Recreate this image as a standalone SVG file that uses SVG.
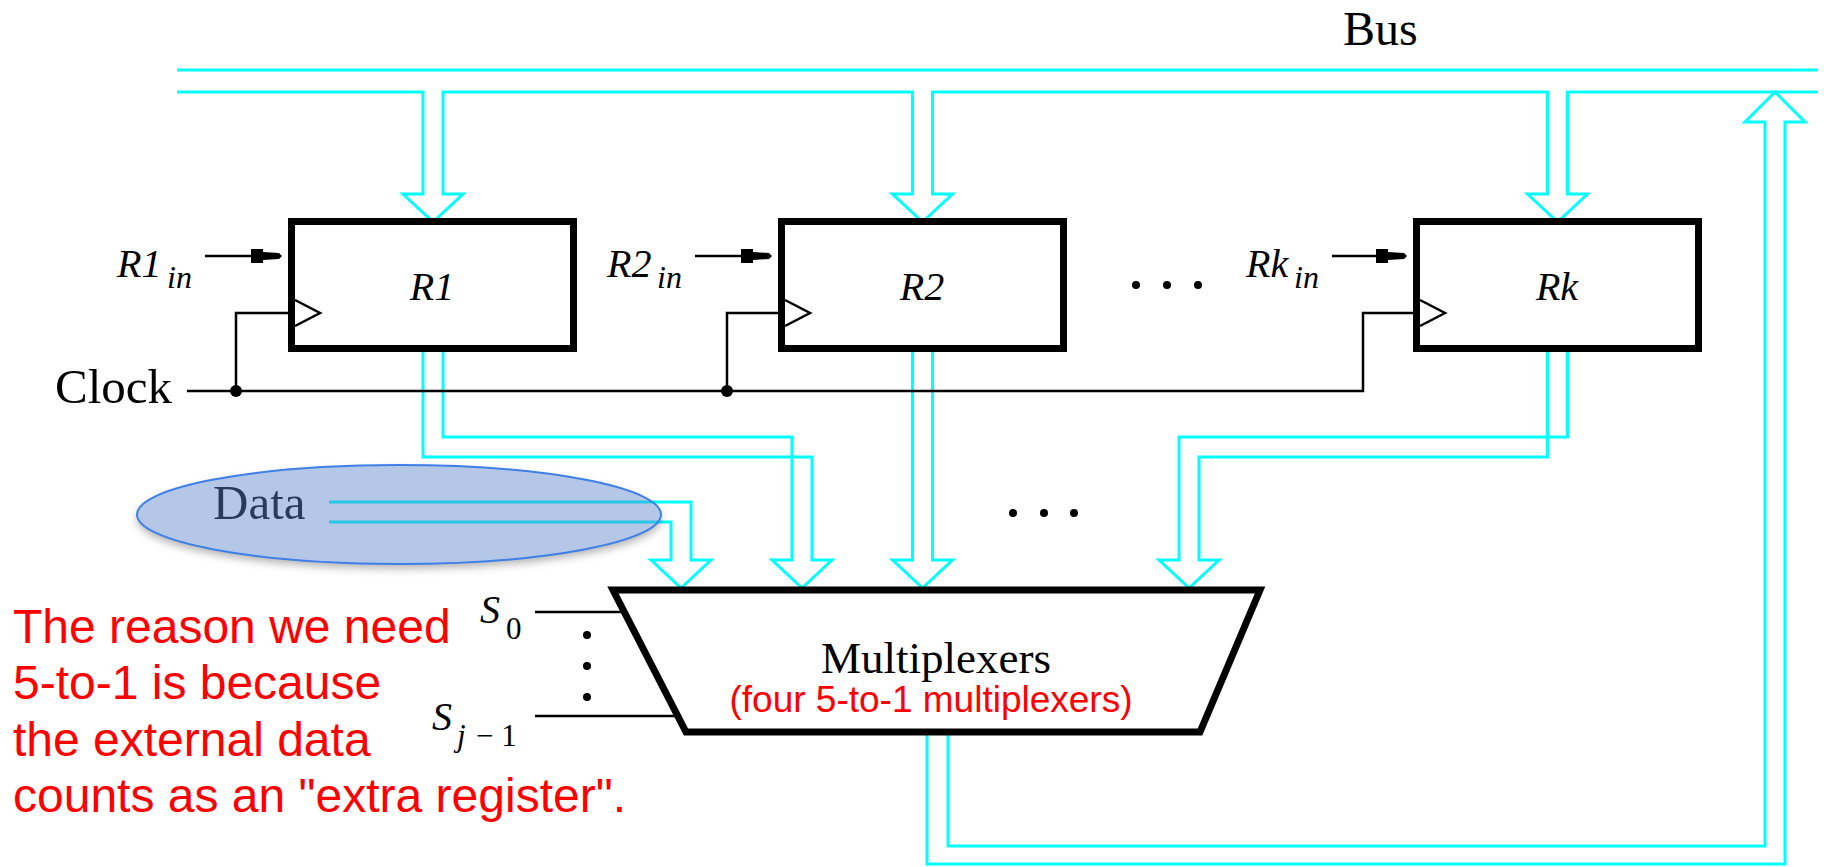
<svg xmlns="http://www.w3.org/2000/svg" width="1824" height="867" viewBox="0 0 1824 867">
<style>
.bus{fill:none;stroke:#00ffff;stroke-width:3;stroke-linejoin:miter}
.reg{fill:#fff;stroke:#000;stroke-width:7}
.wire{fill:none;stroke:#000;stroke-width:2.5}
.clk{fill:#fff;stroke:#000;stroke-width:2.5;stroke-linejoin:miter}
.serif{font-family:"Liberation Serif","Times New Roman",serif;fill:#000}
.ital{font-family:"Liberation Serif","Times New Roman",serif;font-style:italic;fill:#000}
.red{font-family:"Liberation Sans",Arial,sans-serif;fill:#ff0000}
</style>
<defs>
<filter id="blur" x="-10%" y="-30%" width="120%" height="160%">
<feGaussianBlur stdDeviation="4"/>
</filter>
<mask id="outside">
<rect width="1824" height="867" fill="#fff"/>
<ellipse cx="399" cy="514.5" rx="262" ry="49.5" fill="#000"/>
</mask>
</defs>
<rect width="1824" height="867" fill="#fff"/>

<g id="connectors">
<!-- bus -->
<line class="bus" x1="177" y1="70" x2="1818" y2="70"/>
<path class="bus" d="M177,92 H423 V194 H403 L433,222 L463,194 H443 V92 H912.5 V194 H892.5 L922.5,222 L952.5,194 H932.5 V92 H1547.5 V194 H1527.5 L1557.5,222 L1587.5,194 H1567.5 V92 H1818"/>
<!-- register outputs to mux -->
<path class="bus" d="M423,352 V457 H812 V560 H832 L802,588 L772,560 H792 V437 H443 V352"/>
<path class="bus" d="M912.5,352 V560 H892.5 L922.5,588 L952.5,560 H932.5 V352"/>
<path class="bus" d="M1567.5,352 V437 H1179 V560 H1159 L1189,588 L1219,560 H1199 V457 H1547.5 V352"/>
<!-- data input -->
<path class="bus" d="M329,502 H691 V560 H711 L681,588 L651,560 H671 V522 H329"/>
<!-- mux output back to bus -->
<path class="bus" d="M927,733 V864 H1785 V122 H1805 L1775,92 L1745,122 H1765 V846 H948 V733"/>
<!-- clock -->
<path class="wire" d="M187,391 H1363 V313 H1413"/>
<path class="wire" d="M236,391 V313 H288"/>
<path class="wire" d="M727,391 V313 H778"/>
<circle cx="236" cy="391" r="6" fill="#000"/>
<circle cx="727" cy="391" r="6" fill="#000"/>
<!-- load enables -->
<line class="wire" x1="205" y1="256" x2="252" y2="256"/>
<path d="M251,249 H263 V252 L279,253 L282,256 L279,259 L263,260 V263 H251 Z" fill="#000"/>
<line class="wire" x1="695" y1="256" x2="742" y2="256"/>
<path d="M741,249 H753 V252 L769,253 L772,256 L769,259 L753,260 V263 H741 Z" fill="#000"/>
<line class="wire" x1="1332" y1="256" x2="1377" y2="256"/>
<path d="M1376,249 H1388 V252 L1404,253 L1407,256 L1404,259 L1388,260 V263 H1376 Z" fill="#000"/>
<!-- select lines -->
<line class="wire" x1="535" y1="612" x2="624" y2="612"/>
<line class="wire" x1="535" y1="716" x2="678" y2="716"/>
</g>

<g id="bus-label"><text class="serif" x="1343" y="45" font-size="48">Bus</text></g>

<g id="clock-label"><text class="serif" x="55" y="403" font-size="49">Clock</text></g>

<g id="reg-R1">
<rect class="reg" x="291.5" y="221.5" width="282" height="127"/>
<path class="clk" d="M295,300 L320,313 L295,326"/>
<text class="ital" x="432" y="300" font-size="40" text-anchor="middle">R1</text>
<text class="ital" x="117" y="277" font-size="40">R1</text>
<text class="ital" x="167" y="288" font-size="32">in</text>
</g>

<g id="reg-R2">
<rect class="reg" x="781.5" y="221.5" width="282" height="127"/>
<path class="clk" d="M785,300 L810,313 L785,326"/>
<text class="ital" x="922" y="300" font-size="40" text-anchor="middle">R2</text>
<text class="ital" x="607" y="277" font-size="40">R2</text>
<text class="ital" x="657" y="288" font-size="32">in</text>
</g>

<g id="reg-Rk">
<rect class="reg" x="1416.5" y="221.5" width="282" height="127"/>
<path class="clk" d="M1420,300 L1445,313 L1420,326"/>
<text class="ital" x="1557" y="300" font-size="40" text-anchor="middle">Rk</text>
<text class="ital" x="1246" y="277" font-size="40">Rk</text>
<text class="ital" x="1294" y="288" font-size="32">in</text>
</g>

<g id="ellipsis">
<circle cx="1136" cy="285" r="4" fill="#000"/>
<circle cx="1167" cy="285" r="4" fill="#000"/>
<circle cx="1198" cy="285" r="4" fill="#000"/>
<circle cx="1013" cy="513" r="4" fill="#000"/>
<circle cx="1044" cy="513" r="4" fill="#000"/>
<circle cx="1074" cy="513" r="4" fill="#000"/>
<circle cx="587" cy="635" r="4" fill="#000"/>
<circle cx="587" cy="666" r="4" fill="#000"/>
<circle cx="587" cy="697" r="4" fill="#000"/>
</g>

<g id="data">
<ellipse cx="399" cy="519" rx="262" ry="49.5" fill="#000" fill-opacity="0.3" filter="url(#blur)" mask="url(#outside)"/>
<text class="serif" x="213" y="519" font-size="49">Data</text>
<ellipse cx="399" cy="514.5" rx="262" ry="49.5" fill="rgb(89,131,202)" fill-opacity="0.45" stroke="#3f7fe8" stroke-width="2"/>
</g>

<g id="mux">
<path d="M613,590 H1260 L1200,732 H686 Z" fill="#fff" stroke="#000" stroke-width="7" stroke-linejoin="miter"/>
<text class="serif" x="936" y="673" font-size="45" text-anchor="middle">Multiplexers</text>
<text class="red" x="931" y="712" font-size="37" text-anchor="middle">(four 5-to-1 multiplexers)</text>
</g>

<g id="select-labels">
<text class="ital" x="480" y="623" font-size="40">S</text>
<text class="serif" x="506" y="639" font-size="31">0</text>
<text class="ital" x="432" y="730" font-size="40">S</text>
<text class="ital" x="457" y="746" font-size="31">j</text>
<text class="serif" x="476" y="746" font-size="31">− 1</text>
</g>

<g id="note">
<text class="red" font-size="48"><tspan x="13" y="643">The reason we need</tspan><tspan x="13" y="699">5-to-1 is because</tspan><tspan x="13" y="756">the external data</tspan><tspan x="13" y="812">counts as an "extra register".</tspan></text>
</g>
</svg>
